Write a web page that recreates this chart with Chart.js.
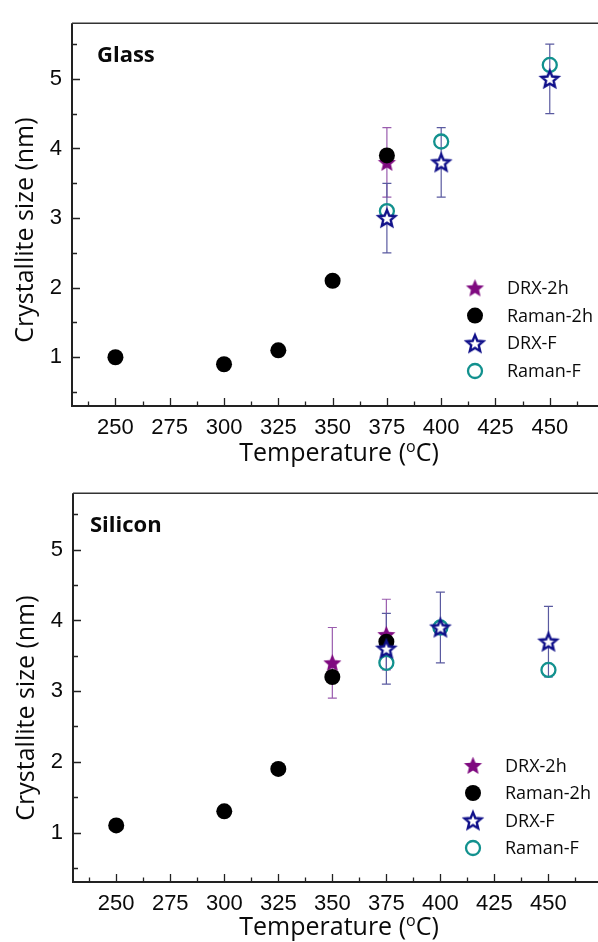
<!DOCTYPE html>
<html>
<head>
<meta charset="utf-8">
<script src="https://cdn.jsdelivr.net/npm/chart.js@4.4.1/dist/chart.umd.min.js"></script>
<style>
  html, body { margin: 0; padding: 0; background: #fff; }
  .panel { position: relative; width: 598px; }
  #p1 { height: 470px; }
  #p2 { height: 472px; }
</style>
</head>
<body>
<div class="panel" id="p1"><canvas id="c1"></canvas></div>
<div class="panel" id="p2"><canvas id="c2"></canvas></div>
<script>
// ---------- data ----------
const seriesNames = ['DRX-2h', 'Raman-2h', 'DRX-F', 'Raman-F'];
const xTickLabels = [250, 275, 300, 325, 350, 375, 400, 425, 450];
const yTickLabels = [1, 2, 3, 4, 5];

// Glass panel
const glassDrx2hT   = [375];
const glassDrx2h    = [3.8];
const glassDrx2hErr = [0.5];
const glassRaman2hT = [250, 300, 325, 350, 375];
const glassRaman2h  = [1.0, 0.9, 1.1, 2.1, 3.9];
const glassDrxFT    = [375, 400, 450];
const glassDrxF     = [3.0, 3.8, 5.0];
const glassDrxFErr  = [0.5, 0.5, 0.5];
const glassRamanFT  = [375, 400, 450];
const glassRamanF   = [3.1, 4.1, 5.2];

// Silicon panel
const siDrx2hT   = [350, 375];
const siDrx2h    = [3.4, 3.8];
const siDrx2hErr = [0.5, 0.5];
const siRaman2hT = [250, 300, 325, 350, 375];
const siRaman2h  = [1.1, 1.3, 1.9, 3.2, 3.7];
const siDrxFT    = [375, 400, 450];
const siDrxF     = [3.6, 3.9, 3.7];
const siDrxFErr  = [0.5, 0.5, 0.5];
const siRamanFT  = [375, 400, 450];
const siRamanF   = [3.4, 3.9, 3.3];

// ---------- styles ----------
const COL_PURPLE = '#7f0a80';
const COL_NAVY = '#10108a';
const COL_TEAL = '#12918e';
const ERR_PURPLE = '#9a5cae';
const ERR_NAVY = '#5a5aa0';

function makeStar(outerR, fill, stroke, lw) {
  const pad = Math.ceil(lw) + 1;
  const s = Math.ceil(outerR * 2 + pad * 2);
  const c = document.createElement('canvas');
  c.width = s; c.height = s;
  const g = c.getContext('2d');
  const cx = s / 2, cy = s / 2 + outerR * 0.08;
  const innerR = outerR * 0.45;
  g.beginPath();
  for (let i = 0; i < 10; i++) {
    const r = i % 2 === 0 ? outerR : innerR;
    const a = -Math.PI / 2 + i * Math.PI / 5;
    const x = cx + r * Math.cos(a), y = cy + r * Math.sin(a);
    if (i === 0) g.moveTo(x, y); else g.lineTo(x, y);
  }
  g.closePath();
  g.fillStyle = fill; g.fill();
  if (stroke) { g.lineWidth = lw; g.strokeStyle = stroke; g.lineJoin = 'miter'; g.stroke(); }
  return c;
}
const starFilled = makeStar(9.5, COL_PURPLE, null, 0);
const starOpen = makeStar(8.8, '#ffffff', COL_NAVY, 2.4);

function pts(xs, ys) { return xs.map((x, i) => ({ x: x, y: ys[i] })); }

function buildDatasets(d) {
  return [
    { label: seriesNames[0], data: pts(d.drx2hT, d.drx2h), errs: d.drx2hErr, errColor: ERR_PURPLE,
      pointStyle: starFilled, pointRadius: 9, order: 2, legendStyle: 'starFilled' },
    { label: seriesNames[1], data: pts(d.raman2hT, d.raman2h), pointStyle: 'circle', pointRadius: 8,
      backgroundColor: '#000', borderColor: '#000', borderWidth: 0, order: 1, legendStyle: 'dot' },
    { label: seriesNames[2], data: pts(d.drxFT, d.drxF), errs: d.drxFErr, errColor: ERR_NAVY,
      pointStyle: starOpen, pointRadius: 9, order: 0, legendStyle: 'starOpen' },
    { label: seriesNames[3], data: pts(d.ramanFT, d.ramanF), pointStyle: 'circle', pointRadius: 7,
      backgroundColor: 'rgba(255,255,255,0)', borderColor: COL_TEAL, borderWidth: 2.3, order: 3, legendStyle: 'ring' }
  ];
}

const titleFamily = '"Open Sans", "Noto Sans", sans-serif';

function drawMarker(ctx, kind, x, y) {
  if (kind === 'starFilled') ctx.drawImage(starFilled, x - starFilled.width / 2, y - starFilled.height / 2);
  else if (kind === 'starOpen') ctx.drawImage(starOpen, x - starOpen.width / 2, y - starOpen.height / 2);
  else if (kind === 'dot') { ctx.beginPath(); ctx.arc(x, y, 8, 0, Math.PI * 2); ctx.fillStyle = '#000'; ctx.fill(); }
  else { ctx.beginPath(); ctx.arc(x, y, 7, 0, Math.PI * 2); ctx.lineWidth = 2.3; ctx.strokeStyle = COL_TEAL; ctx.stroke(); }
}

const decorPlugin = {
  id: 'decor',
  beforeDatasetsDraw(chart) {
    const ctx = chart.ctx, xs = chart.scales.x, ys = chart.scales.y;
    ctx.save();
    chart.data.datasets.forEach(ds => {
      if (!ds.errs) return;
      ctx.strokeStyle = ds.errColor; ctx.lineWidth = 1.2;
      ds.data.forEach((p, i) => {
        const px = xs.getPixelForValue(p.x);
        const top = ys.getPixelForValue(p.y + ds.errs[i]);
        const bot = ys.getPixelForValue(p.y - ds.errs[i]);
        ctx.beginPath();
        ctx.moveTo(px, top); ctx.lineTo(px, bot);
        ctx.moveTo(px - 4.5, top); ctx.lineTo(px + 4.5, top);
        ctx.moveTo(px - 4.5, bot); ctx.lineTo(px + 4.5, bot);
        ctx.stroke();
      });
    });
    ctx.restore();
  },
  afterDraw(chart) {
    const ctx = chart.ctx, a = chart.chartArea, xs = chart.scales.x, ys = chart.scales.y;
    const o = chart.options.plugins.decor;
    ctx.save();
    // frame
    ctx.strokeStyle = '#222';
    ctx.lineWidth = 2;
    ctx.beginPath();
    ctx.moveTo(a.left, a.top); ctx.lineTo(a.left, a.bottom); ctx.lineTo(chart.width, a.bottom);
    ctx.stroke();
    ctx.lineWidth = 1.6; ctx.strokeStyle = '#333';
    ctx.beginPath(); ctx.moveTo(a.left, a.top); ctx.lineTo(chart.width, a.top); ctx.stroke();
    // ticks
    ctx.lineWidth = 1.3; ctx.strokeStyle = '#222';
    ctx.beginPath();
    for (let v = xs.min; v <= xs.max; v += 0.5) {
      const r = v % 25, major = r === 0, minor = r === 12.5;
      if (!major && !minor) continue;
      const px = Math.round(xs.getPixelForValue(v)) + 0.5;
      ctx.moveTo(px, a.bottom); ctx.lineTo(px, a.bottom - (major ? 8 : 4.5));
    }
    for (let k = 1; k <= 11; k++) {
      const v = k * 0.5;
      if (v < ys.min || v > ys.max) continue;
      const major = k % 2 === 0;
      const py = Math.round(ys.getPixelForValue(v)) + 0.5;
      ctx.moveTo(a.left, py); ctx.lineTo(a.left + (major ? 8 : 5), py);
    }
    ctx.stroke();
    // panel label
    ctx.fillStyle = '#0a0a0a';
    ctx.font = 'bold 22px ' + titleFamily;
    ctx.textAlign = 'left'; ctx.textBaseline = 'alphabetic';
    ctx.fillText(o.label, o.labelX, a.top + o.labelDy);
    // y title
    ctx.font = '25px ' + titleFamily;
    ctx.save();
    ctx.translate(o.yTitleX, o.yTitleY);
    ctx.rotate(-Math.PI / 2);
    ctx.textAlign = 'center'; ctx.textBaseline = 'alphabetic';
    ctx.fillText('Crystallite size (nm)', 0, 0);
    ctx.restore();
    // x title with superscript o
    const p1 = 'Temperature (', p2 = 'o', p3 = 'C)';
    ctx.font = '25px ' + titleFamily;
    const w1 = ctx.measureText(p1).width, w3 = ctx.measureText(p3).width;
    ctx.font = '16px ' + titleFamily;
    const w2 = ctx.measureText(p2).width;
    const total = w1 + w2 + w3;
    let x0 = o.xTitleX - total / 2;
    const base = o.xTitleBase;
    ctx.textAlign = 'left'; ctx.textBaseline = 'alphabetic';
    ctx.font = '25px ' + titleFamily; ctx.fillText(p1, x0, base);
    ctx.font = '16px ' + titleFamily; ctx.fillText(p2, x0 + w1, base - 9);
    ctx.font = '25px ' + titleFamily; ctx.fillText(p3, x0 + w1 + w2, base);
    // legend
    ctx.font = '18px ' + titleFamily;
    ctx.textBaseline = 'middle';
    chart.data.datasets.forEach((ds, i) => {
      const y = a.bottom - o.legendBottom - o.legendStep * (chart.data.datasets.length - 1 - i);
      drawMarker(ctx, ds.legendStyle, o.legendMarkX, y);
      ctx.fillStyle = '#0a0a0a';
      ctx.fillText(ds.label, o.legendTextX, y + 1);
    });
    ctx.restore();
  }
};

function makeChart(id, d, cfg) {
  return new Chart(document.getElementById(id), {
    type: 'scatter',
    data: { datasets: buildDatasets(d) },
    plugins: [decorPlugin],
    options: {
      responsive: true,
      maintainAspectRatio: false,
      animation: false,
      events: [],
      layout: { padding: { top: cfg.top, right: 0, left: 0, bottom: 0 } },
      plugins: {
        legend: { display: false },
        tooltip: { enabled: false },
        decor: cfg.decor
      },
      scales: {
        x: {
          type: 'linear', min: 230, max: cfg.xmax,
          grid: { display: false, drawTicks: false },
          border: { display: false },
          afterBuildTicks: s => { s.ticks = xTickLabels.map(v => ({ value: v })); },
          afterFit: s => { s.height = cfg.xh; },
          ticks: { font: { family: '"Liberation Sans", Arial, sans-serif', size: 22 }, color: '#0a0a0a', padding: 9, maxRotation: 0 }
        },
        y: {
          type: 'linear', min: 0.3, max: 5.8,
          grid: { display: false, drawTicks: false },
          border: { display: false },
          afterBuildTicks: s => { s.ticks = yTickLabels.map(v => ({ value: v })); },
          afterFit: s => { s.width = cfg.yw; },
          ticks: { font: { family: '"Liberation Sans", Arial, sans-serif', size: 22 }, color: '#0a0a0a', padding: 10 }
        }
      }
    }
  });
}

makeChart('c1', {
  drx2hT: glassDrx2hT, drx2h: glassDrx2h, drx2hErr: glassDrx2hErr,
  raman2hT: glassRaman2hT, raman2h: glassRaman2h,
  drxFT: glassDrxFT, drxF: glassDrxF, drxFErr: glassDrxFErr,
  ramanFT: glassRamanFT, ramanF: glassRamanF
}, {
  top: 14, xh: 64, yw: 72, xmax: 467.6,
  decor: { label: 'Glass', labelX: 97, labelDy: 39, yTitleX: 33, yTitleY: 230,
           xTitleX: 339, xTitleBase: 461, legendMarkX: 475, legendTextX: 507, legendBottom: 35, legendStep: 27.7 }
});

makeChart('c2', {
  drx2hT: siDrx2hT, drx2h: siDrx2h, drx2hErr: siDrx2hErr,
  raman2hT: siRaman2hT, raman2h: siRaman2h,
  drxFT: siDrxFT, drxF: siDrxF, drxFErr: siDrxFErr,
  ramanFT: siRamanFT, ramanF: siRamanF
}, {
  top: 22, xh: 60, yw: 73, xmax: 468.3,
  decor: { label: 'Silicon', labelX: 90, labelDy: 39, yTitleX: 34, yTitleY: 238,
           xTitleX: 339, xTitleBase: 465, legendMarkX: 473, legendTextX: 505, legendBottom: 34, legendStep: 27.5 }
});
</script>
</body>
</html>
